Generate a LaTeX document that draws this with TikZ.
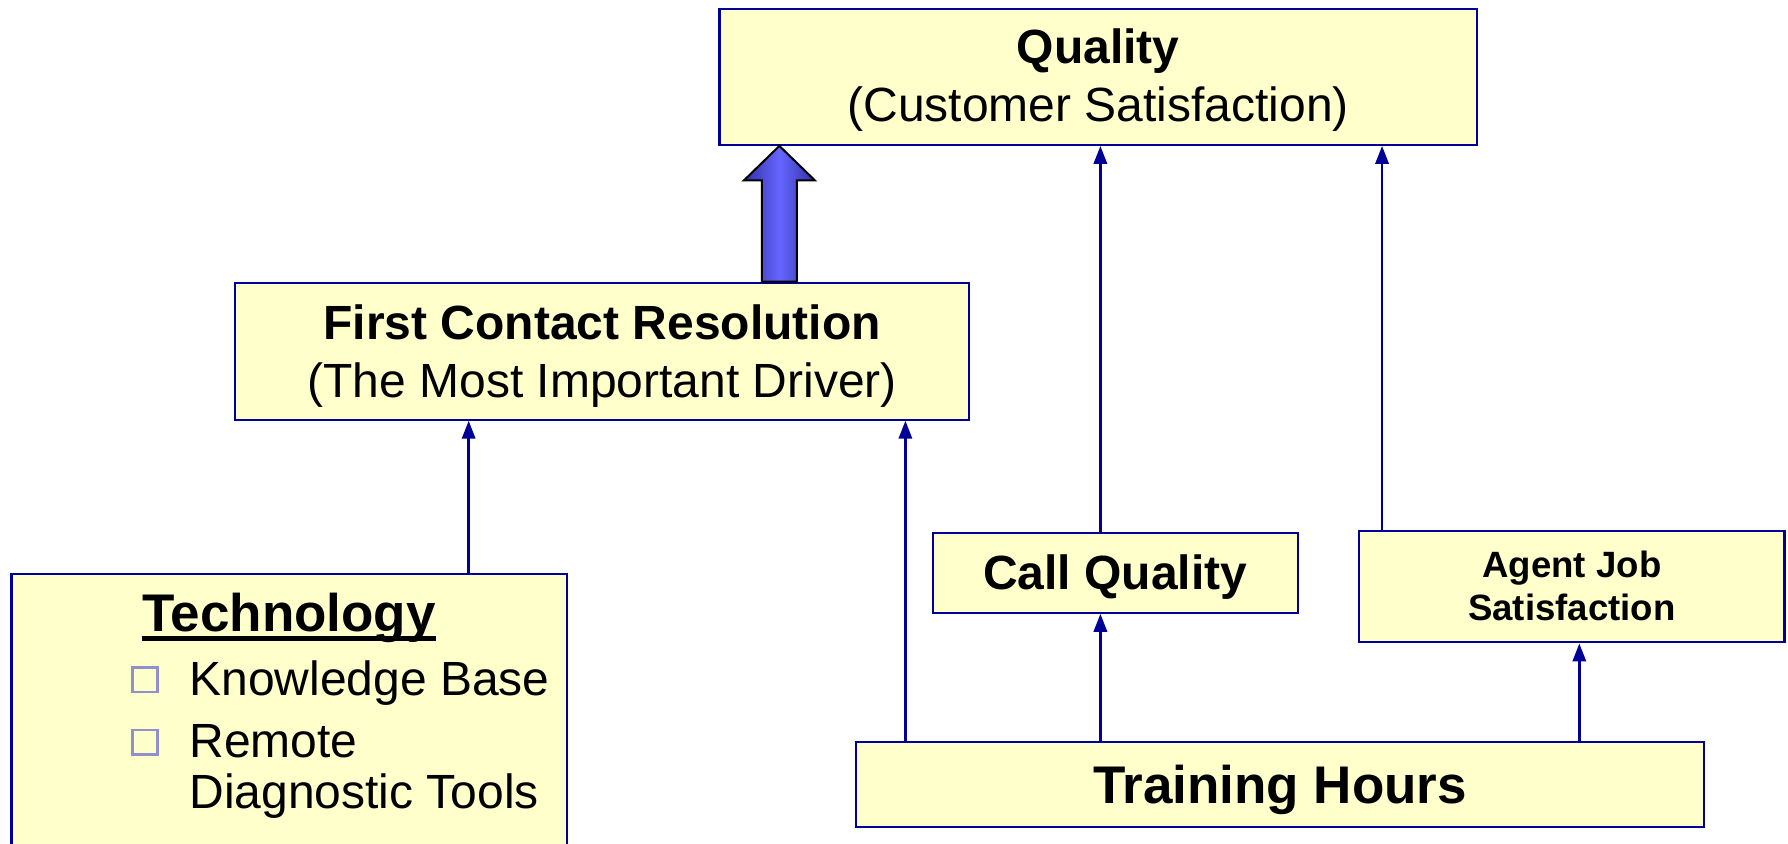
\documentclass[tikz,border=0pt]{standalone}
\usepackage{fontspec}
\setmainfont{Liberation Sans}
\usetikzlibrary{arrows.meta,fit,calc}
\definecolor{boxfill}{HTML}{FFFFCC}
\definecolor{boxline}{HTML}{000099}
\definecolor{bulletline}{HTML}{9090CC}
\definecolor{bigdark}{HTML}{3030A8}
\definecolor{biglight}{HTML}{6666FF}
\begin{document}
\begin{tikzpicture}[x=0.57015pt,y=-0.57015pt,
  box/.style={draw=boxline,fill=boxfill,line width=1.1pt,inner sep=0pt},
  link/.style={draw=boxline,line width=1.4pt,-{Triangle[width=6.6pt,length=9pt]}},
  txt/.style={anchor=base,inner sep=0pt},
  listtxt/.style={anchor=base west,inner sep=0pt,font=\fontsize{24}{28}\selectfont},
  bigtitle/.style={font=\fontsize{24}{28}\selectfont\bfseries},
  subtitle/.style={font=\fontsize{24}{28}\selectfont},
  hugetitle/.style={font=\fontsize{26.5}{30}\selectfont\bfseries},
  smalltitle/.style={font=\fontsize{18.3}{22}\selectfont\bfseries},
  bulletbox/.style={draw=bulletline,line width=1.3pt,minimum size=12.4pt,inner sep=0pt,anchor=south west},
  bigarrow/.style={draw=black,line width=1pt,line join=miter,left color=bigdark,right color=bigdark,middle color=biglight}
]
\useasboundingbox (0,0) rectangle (1568,740);

% boxes
\node[box,fit={(631,8) (1295,127)}] (quality) {};
\node[box,fit={(206,248) (850,368)}] (fcr) {};
\node[box,fit={(10,503.5) (497,745)}] (tech) {};
\node[box,fit={(818,467.5) (1138,537.3)}] (callq) {};
\node[box,fit={(1192,465.5) (1565,563.3)}] (agent) {};
\node[box,fit={(751,650.5) (1494,725)}] (train) {};

% texts
\node[txt,bigtitle] (qt1) at (963,56) {Quality};
\node[txt,subtitle] (qt2) at (963,106.7) {(Customer Satisfaction)};
\node[txt,bigtitle] (ft1) at (528,297.6) {First Contact Resolution};
\node[txt,subtitle] (ft2) at (528,349) {(The Most Important Driver)};
\node[txt,hugetitle] (tt) at (253.5,553.4) {Technology};
\draw[line width=2.4pt] ([yshift=-3.8pt]tt.base west) -- ([yshift=-3.8pt]tt.base east);
\node[bulletbox] (b1) at (115,608) {};
\node[listtxt] (kb) at (165.7,609.5) {Knowledge Base};
\node[bulletbox] (b2) at (115,663) {};
\node[listtxt] (rm) at (165.7,664.1) {Remote};
\node[listtxt] (dt) at (165.7,708.9) {Diagnostic Tools};
\node[txt,bigtitle] (cqt) at (978,516.8) {Call Quality};
\node[txt,smalltitle] (at1) at (1378.5,506.3) {Agent Job};
\node[txt,smalltitle] (at2) at (1378.5,544.3) {Satisfaction};
\node[txt,hugetitle] (trt) at (1122.5,704.5) {Training Hours};

% connector columns
\coordinate (xtech) at (411,0);
\coordinate (xtrf) at (794,0);
\coordinate (xcq) at (965,0);
\coordinate (xag) at (1212,0);
\coordinate (xtra) at (1385,0);
\coordinate (xbig) at (683.5,0);

% thin connectors
\draw[link] (tech.north -| xtech) -- (fcr.south -| xtech);
\draw[link] (train.north -| xtrf) -- (fcr.south -| xtrf);
\draw[link] (train.north -| xcq) -- (callq.south -| xcq);
\draw[link] (callq.north -| xcq) -- (quality.south -| xcq);
\draw[link] (train.north -| xtra) -- (agent.south -| xtra);
\draw[link] (agent.north -| xag) -- (quality.south -| xag);

% block arrow from First Contact Resolution up to Quality
\coordinate (bt) at (quality.south -| xbig);
\coordinate (bb) at (fcr.north -| xbig);
\path[bigarrow] ($(bb)+(-15.35,0)$) -- ($(bt)+(-15.35,30.2)$) -- ($(bt)+(-31.1,30.2)$)
  -- (bt) -- ($(bt)+(31.1,30.2)$) -- ($(bt)+(15.35,30.2)$) -- ($(bb)+(15.35,0)$) -- cycle;
\end{tikzpicture}
\end{document}
